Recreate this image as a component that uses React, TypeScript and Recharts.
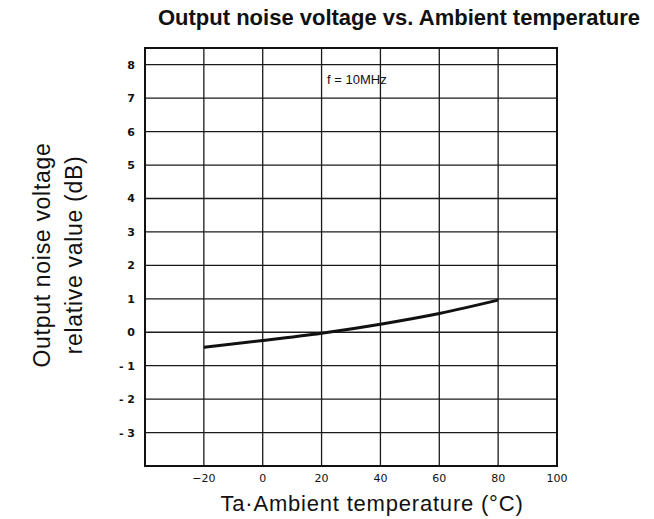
import React from 'react';
import { LineChart, Line, XAxis, YAxis, CartesianGrid, ReferenceArea, ReferenceDot } from 'recharts';

document.body.style.margin = '0';

// Ambient temperature (°C) vs output noise voltage relative value (dB), f = 10MHz
const temperatures = [-20, 0, 20, 40, 60, 80];
const noiseValues = [-0.45, -0.25, -0.03, 0.24, 0.56, 0.96];

const xTicks = [-20, 0, 20, 40, 60, 80, 100];
const yTicks = [-3, -2, -1, 0, 1, 2, 3, 4, 5, 6, 7, 8];

const chartData = temperatures.map((t, i) => ({ temp: t, noise: noiseValues[i] }));

const YTick = ({ x, y, payload }: any) => {
  const v = payload.value;
  const text = v < 0 ? `- ${Math.abs(v)}` : `${v}`;
  return (
    <text x={x} y={y} dy={4} textAnchor="end" fontSize={11} fontWeight="bold" fill="#111" fontFamily="DejaVu Sans">
      {text}
    </text>
  );
};

const XTick = ({ x, y, payload }: any) => {
  const v = payload.value;
  const text = v < 0 ? `\u2212${Math.abs(v)}` : `${v}`;
  return (
    <text x={x} y={y} dy={9} textAnchor="middle" fontSize={11} fill="#111" fontFamily="DejaVu Sans">
      {text}
    </text>
  );
};

// annotation drawn as the dot's shape so it sits at a data position
const NoteShape = ({ cx, cy }: any) => (
  <text x={cx} y={cy} dy={4} textAnchor="middle" fontSize={13} fill="#111" fontFamily="Liberation Sans">
    f = 10MHz
  </text>
);

export default function App() {
  return (
    <div style={{ position: 'relative', width: 654, height: 519, background: '#fff', fontFamily: 'Liberation Sans, Arial, sans-serif' }}>
      <div
        style={{
          position: 'absolute',
          left: 0,
          width: 798,
          top: 5,
          textAlign: 'center',
          fontSize: 22,
          fontWeight: 'bold',
          color: '#111',
          whiteSpace: 'nowrap',
        }}
      >
        Output noise voltage vs. Ambient temperature
      </div>

      <LineChart
        width={654}
        height={519}
        data={chartData}
        margin={{ top: 48, right: 97, bottom: 23, left: 105 }}
      >
        <CartesianGrid stroke="#1a1a1a" strokeWidth={1.3} horizontalValues={yTicks} verticalValues={xTicks} />
        <XAxis
          dataKey="temp"
          type="number"
          domain={[-40, 100]}
          ticks={xTicks}
          allowDataOverflow
          axisLine={false}
          tickLine={false}
          tickMargin={1}
          height={30}
          tick={<XTick />}
        />
        <YAxis
          type="number"
          domain={[-4, 8.5]}
          ticks={yTicks}
          allowDataOverflow
          axisLine={false}
          tickLine={false}
          tickMargin={4}
          width={40}
          tick={<YTick />}
        />
        <ReferenceArea x1={-40} x2={100} y1={-4} y2={8.5} fill="none" stroke="#111" strokeWidth={2} />
        <ReferenceDot x={32} y={7.55} r={0} shape={<NoteShape />} />
        <Line
          type="monotone"
          dataKey="noise"
          stroke="#111"
          strokeWidth={3}
          dot={false}
          isAnimationActive={false}
        />
      </LineChart>

      <div
        style={{
          position: 'absolute',
          left: 372,
          top: 504,
          transform: 'translate(-50%, -50%)',
          fontSize: 22,
          lineHeight: '24px',
          letterSpacing: 0.8,
          color: '#111',
          whiteSpace: 'nowrap',
        }}
      >
        Ta·Ambient temperature (°C)
      </div>

      <div
        style={{
          position: 'absolute',
          left: 58,
          top: 255,
          transform: 'translate(-50%, -50%) rotate(-90deg)',
          fontSize: 23,
          letterSpacing: 0.7,
          lineHeight: '32px',
          color: '#111',
          whiteSpace: 'nowrap',
          textAlign: 'center',
        }}
      >
        Output noise voltage
        <br />
        relative value (dB)
      </div>
    </div>
  );
}
